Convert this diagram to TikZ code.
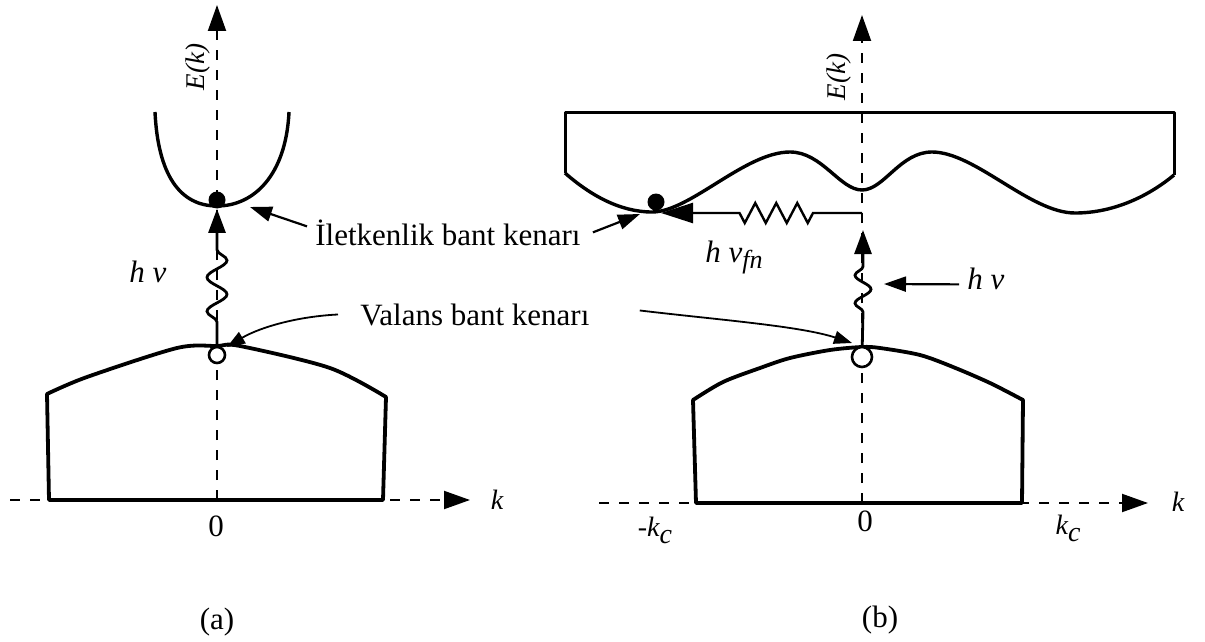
\documentclass[tikz,border=0pt]{standalone}
\usepackage{fontspec}
\setmainfont{Liberation Serif}
\usetikzlibrary{arrows.meta,decorations.pathmorphing,positioning}

\def\dotd{8.5pt}
\def\holed{8pt}

\begin{document}
\begin{tikzpicture}[x=0.5pt,y=-0.5pt,
    every node/.style={font=\fontsize{15.5}{18}\selectfont, inner sep=1pt},
    band/.style={line width=1.9pt, line join=round},
    axisline/.style={line width=1pt, dash pattern=on 5pt off 5pt,
      -{Triangle[length=13pt,width=9pt]}},
    pointer/.style={line width=1.1pt, -{Triangle[length=11pt,width=7.5pt]}},
    thinptr/.style={line width=0.9pt, -{Triangle[length=9pt,width=6.5pt]}},
    wave/.style={line width=1.4pt, -{Triangle[length=12pt,width=8.5pt]}},
    axlabel/.style={font=\fontsize{14}{16}\selectfont\itshape},
    elec/.style={circle, fill, inner sep=0pt, minimum size=\dotd},
    hole/.style={circle, draw, fill=white, line width=1.3pt, inner sep=0pt, minimum size=\holed}
  ]
  \useasboundingbox (0,0) rectangle (1205,642);

  % axes
  \coordinate (kal) at (10,500);   \coordinate (kar) at (470,500);
  \coordinate (Ea0) at (217,500);  \coordinate (Ea1) at (217,5);
  \coordinate (kbl) at (599,503);  \coordinate (kbr) at (1148,503);
  \coordinate (Eb0) at (862,503);  \coordinate (Eb1) at (862,15);
  \draw[axisline] (kal) -- (kar);
  \draw[axisline] (Ea0) -- (Ea1);
  \draw[axisline] (kbl) -- (kbr);
  \draw[axisline] (Eb0) -- (Eb1);

  \node[axlabel] (ka) at (497,500) {k};
  \node[axlabel] (kb) at (1178,502) {k};
  \node[axlabel, font=\fontsize{13.5}{15}\selectfont\itshape, rotate=90] (Ela) at (198,67) {E(k)};
  \node[axlabel, font=\fontsize{13.5}{15}\selectfont\itshape, rotate=90] (Elb) at (839,77) {E(k)};
  \node (za) at (216,526) {0};
  \node (zb) at (865,521) {0};
  \node[axlabel] (kcm) at (655,530) {-k\raisebox{-0.55ex}{c}};
  \node[axlabel] (kcp) at (1068,528) {k\raisebox{-0.55ex}{c}};
  \node (pa) at (217,622) {(a)};
  \node (pb) at (880,620) {(b)};

  % (a) valence and conduction band
  \draw[band] (49,500) -- plot[smooth] coordinates {(47,394) (87,377) (177,348) (217,346)
    (240,346) (330,368) (386,397)} -- (383,500) -- cycle;
  \draw[band, line width=1.7pt] (155,112) .. controls (158,175) and (180,206) .. (217,206)
    .. controls (254,206) and (286,175) .. (289,112);

  \node[elec] (ca) at (217,200) {};
  \node[hole] (va) at (217,355) {};
  \draw[wave] (va) -- (217,322)
    decorate[decoration={snake, segment length=17pt, amplitude=5pt}] {-- (217,246)}
    -- (ca);
  \node[axlabel, font=\fontsize{15.5}{18}\selectfont\itshape] (hva) at (148,272) {h ν};

  % (b) valence band
  \draw[band] (696,503) -- plot[smooth] coordinates {(693,400) (723,382) (760,368) (790,358)
    (830,350) (862,347) (880,348) (920,355) (953,367) (990,383) (1023,400)} -- (1022,503) -- cycle;

  % (b) conduction band
  \draw[band, line width=1.5pt] (565,173) -- (565,113) -- (1174,113) -- (1174,175);
  \draw[band, line width=1.7pt] (565,173) .. controls (590,195) and (620,212) .. (652,212)
    .. controls (690,212) and (745,152) .. (790,152)
    .. controls (822,152) and (840,190) .. (862,190)
    .. controls (884,190) and (900,152) .. (932,152)
    .. controls (975,152) and (1030,213) .. (1075,213)
    .. controls (1115,213) and (1150,195) .. (1174,175);

  \node[elec] (cb) at (656,202) {};
  \node[hole, minimum size=10pt] (vb) at (862,357) {};
  \coordinate (hvbtip) at (863,230);
  \draw[wave] (vb) -- (863,312)
    decorate[decoration={snake, segment length=14pt, amplitude=4pt}] {-- (863,257)}
    -- (hvbtip);

  % phonon
  \coordinate (fns) at (862,213);
  \coordinate (fne) at (661,213);
  \draw[wave, line width=1.2pt, -{Triangle[length=16pt,width=10pt]}] (fns) -- (813,213)
    decorate[decoration={zigzag, segment length=10.5pt, amplitude=5pt}] {-- (738,213)}
    -- (fne);
  \node[anchor=base west, font=\fontsize{15.5}{18}\selectfont\itshape] (hfn) at (703,262)
    {h ν\raisebox{-0.45ex}{\fontsize{13}{15}\selectfont fn}};

  \node[anchor=base west, font=\fontsize{15.5}{18}\selectfont\itshape] (hvb) at (965,289) {h ν};
  \coordinate (hvptr) at (884,284);
  \draw[pointer] ([xshift=-3pt,yshift=-3pt]hvb.west) -- (hvptr);

  % labels
  \node[anchor=base west] (ilet) at (313,245) {İletkenlik bant kenarı};
  \coordinate (ctipa) at (250,207);
  \coordinate (ctipb) at (640,214);
  \draw[pointer] ([xshift=-3pt,yshift=3pt]ilet.west) -- (ctipa);
  \draw[pointer] ([xshift=5pt]ilet.east) -- (ctipb);

  \node[anchor=base west] (val) at (358,325) {Valans bant kenarı};
  \coordinate (vtipa) at (227,347);
  \coordinate (vtipb) at (852,343);
  \draw[thinptr] ([xshift=-10pt]val.west) .. controls (290,317) and (255,330) .. (vtipa);
  \draw[thinptr] ([xshift=24pt,yshift=2pt]val.east) .. controls (720,320) and (800,326) .. (vtipb);
\end{tikzpicture}
\end{document}
